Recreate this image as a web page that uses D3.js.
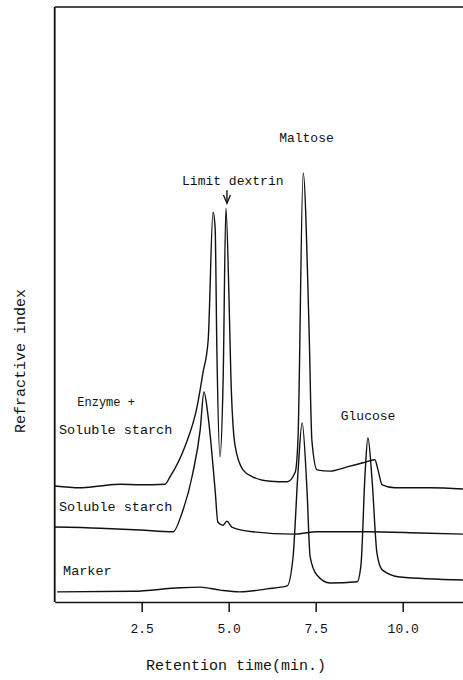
<!DOCTYPE html>
<html><head><meta charset="utf-8">
<script src="https://cdn.jsdelivr.net/npm/d3@7"></script>
<style>
html,body{margin:0;padding:0;background:#fff;}
svg text{font-family:"Liberation Mono","DejaVu Sans Mono",monospace;fill:#111;}
</style></head>
<body><svg id="c" width="463" height="680"></svg>
<script>
// Retention time (min) and refractive-index signal (arbitrary units)
const enzymeStarch = [[0,19.5],[0.73,19.2],[1.30,19.5],[1.88,19.8],[2.45,19.7],[3.17,19.8],[3.31,21.0],[3.74,26.1],[4.09,32.8],[4.26,38.5],[4.41,44.0],[4.55,65.5],[4.61,62.9],[4.66,42.4],[4.75,24.4],[4.84,37.3],[4.92,66.2],[5.01,50.8],[5.06,38.5],[5.18,26.4],[5.41,22.2],[5.70,21.0],[6.19,20.3],[6.68,20.2],[6.91,21.8],[6.99,27.2],[7.14,72.1],[7.31,45.7],[7.39,27.2],[7.54,22.2],[7.91,22.0],[8.40,22.7],[8.86,23.4],[9.20,23.9],[9.29,22.2],[9.41,19.7],[9.78,19.2],[10.79,19.2],[11.73,19.0]];
const solubleStarch = [[0,12.6],[1.30,12.4],[2.45,12.1],[3.40,11.8],[3.66,15.0],[3.97,21.7],[4.18,28.9],[4.29,35.3],[4.41,31.1],[4.61,18.8],[4.69,13.4],[4.84,12.9],[4.95,13.6],[5.09,12.6],[5.70,11.8],[6.85,11.4],[7.54,11.8],[8.97,11.8],[10.50,11.6],[11.73,11.4]];
const marker = [[0.07,1.7],[2.25,1.8],[3.60,2.4],[4.18,2.5],[4.75,2.0],[5.32,1.7],[6.10,2.2],[6.68,2.7],[6.85,7.6],[6.99,21.7],[7.11,30.1],[7.25,18.8],[7.34,7.6],[7.54,4.5],[7.91,3.2],[8.69,3.4],[8.80,6.2],[8.92,21.7],[9.00,27.6],[9.12,20.5],[9.26,8.2],[9.41,5.4],[9.92,4.2],[11.73,3.7]];
const xTicks = [2.5, 5.0, 7.5, 10.0];
const xTickLabels = ["2.5", "5.0", "7.5", "10.0"];
const seriesLabels = [
  {text:"Enzyme +", t:0.65, v:32.9, small:true},
  {text:"Soluble starch", t:0.12, v:28.2},
  {text:"Soluble starch", t:0.12, v:15.3},
  {text:"Marker", t:0.24, v:4.5}
];
const peakLabels = [
  {text:"Limit dextrin", t:3.66, v:70.1},
  {text:"Maltose", t:6.45, v:77.3},
  {text:"Glucose", t:8.22, v:30.6}
];

const svg = d3.select("#c");
const x = d3.scaleLinear().domain([0, 11.75]).range([54.7, 463.6]);
const y = d3.scaleLinear().domain([0, 100]).range([602, 7]);

// frame: left axis, top line
svg.append("path").attr("d", `M${x(0)},${y(100)}H463`).attr("stroke","#111").attr("stroke-width",1.6).attr("fill","none");
svg.append("path").attr("d", `M${x(0)},${y(100)}V${y(0)}`).attr("stroke","#111").attr("stroke-width",1.8).attr("fill","none");

// bottom axis
const xAxis = d3.axisBottom(x).tickValues(xTicks).tickFormat((d,i)=>xTickLabels[i]).tickSizeInner(10).tickSizeOuter(0).tickPadding(12);
const ax = svg.append("g").attr("transform",`translate(0,${y(0)})`).call(xAxis);
ax.select(".domain").attr("stroke","#111").attr("stroke-width",1.6);
ax.selectAll(".tick line").attr("stroke","#111").attr("stroke-width",1.5);
ax.selectAll(".tick text").style("font-family","Liberation Mono, monospace").style("font-size","13px").attr("fill","#111");

// curves
const line = d3.line().x(d=>x(d[0])).y(d=>y(d[1])).curve(d3.curveMonotoneX);
[enzymeStarch, solubleStarch, marker].forEach(s=>{
  svg.append("path").datum(s).attr("d", line).attr("fill","none").attr("stroke","#111").attr("stroke-width",1.4).attr("stroke-linejoin","round");
});

// series labels
seriesLabels.forEach(l=>{
  svg.append("text").attr("x", x(l.t)).attr("y", y(l.v))
    .style("font-size", l.small ? "12px" : "13.5px")
    .text(l.text);
});
peakLabels.forEach(l=>{
  svg.append("text").attr("x", x(l.t)).attr("y", y(l.v)).style("font-size","13px").text(l.text);
});

// arrow for limit dextrin
const ax0 = x(4.95);
svg.append("path").attr("d", `M${ax0},${y(69.2)}V${y(67)}`).attr("stroke","#111").attr("stroke-width",1.4).attr("fill","none");
svg.append("path").attr("d", `M${ax0-3.5},${y(68.4)}L${ax0},${y(67)}L${ax0+3.5},${y(68.4)}`).attr("stroke","#111").attr("stroke-width",1.3).attr("fill","none");

// axis titles
svg.append("text").attr("x", 236).attr("y", 670).attr("text-anchor","middle").style("font-size","15px").text("Retention time(min.)");
svg.append("text").attr("transform","translate(25,361) rotate(-90)").attr("text-anchor","middle").style("font-size","15px").text("Refractive index");
</script></body></html>
